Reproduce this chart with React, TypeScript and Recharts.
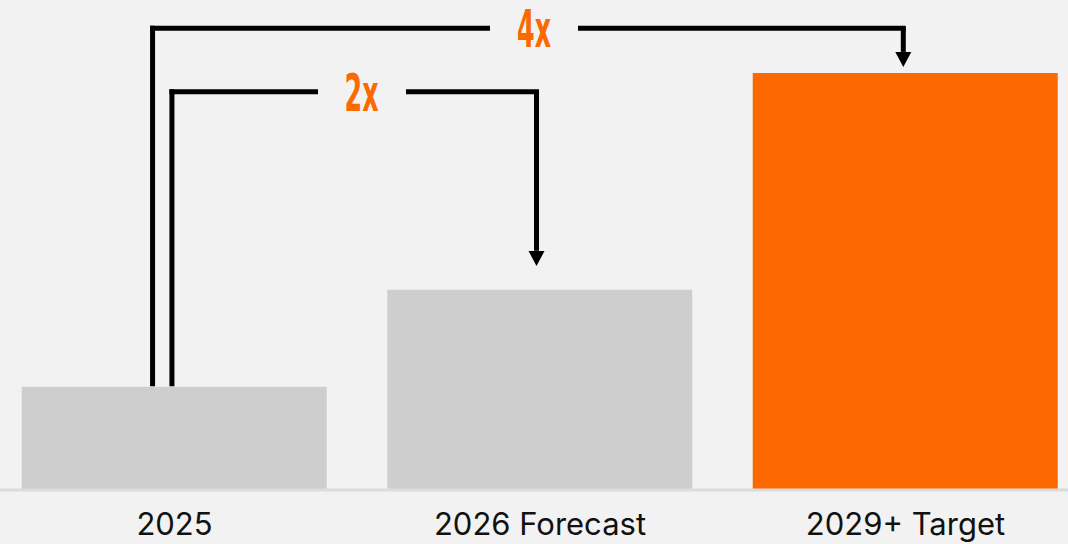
import { BarChart, Bar, Cell, XAxis, YAxis, ReferenceLine, ReferenceDot } from "recharts";

// categories and values
const categories = ["2025", "2026 Forecast", "2029+ Target"];
const values = [0.99, 1.92, 4.0];
const barColors = ["#cecece", "#cecece", "#fb6900"];

// connector annotations, in data coordinates (x = bar index, y = value)
const outerLevel = 4.43;
const innerLevel = 3.82;
const outerX = -0.06;
const innerX = -0.007;
const outerTarget = 1.994;
const innerTarget = 0.9905;
const outerTip = 4.057;
const innerTip = 2.149;
const headLen = 0.145;

const data = categories.map((name, i) => ({ idx: i, name, value: values[i] }));

const lineProps = {
  stroke: "#000",
  strokeWidth: 5,
  strokeLinecap: "square" as const,
  ifOverflow: "visible" as const,
};

const Arrowhead = (p: any) => (
  <path d={`M${p.cx - 8},${p.cy - 15} L${p.cx + 8},${p.cy - 15} L${p.cx},${p.cy} Z`} fill="#000" />
);

const makeMultiple = (text: string) => (p: any) => (
  <text
    x={p.cx}
    y={p.cy + 19}
    textAnchor="middle"
    fill="#fb6900"
    fontFamily="DejaVu Sans"
    fontWeight="bold"
    fontSize={52}
    textLength={34}
    lengthAdjust="spacingAndGlyphs"
  >
    {text}
  </text>
);

const App = () => {
  return (
    <div style={{ position: "absolute", left: 0, top: 0, width: 1068, height: 544, background: "#f2f2f2" }}>
      <BarChart width={1068} height={544} data={data} margin={{ top: 0, right: 0, left: 0, bottom: 0 }}>
        <XAxis
          type="number"
          dataKey="idx"
          domain={[-0.4774, 2.4446]}
          ticks={[0, 1, 2]}
          tickFormatter={(i: number) => categories[i]}
          height={54}
          axisLine={{ stroke: "#dcdcdc", strokeWidth: 3 }}
          tickLine={false}
          tickSize={0}
          tickMargin={23}
          tick={{ fill: "#111", fontSize: 31, fontFamily: "Inter" }}
        />
        <YAxis hide domain={[0, 4.7]} />
        <Bar dataKey="value" barSize={305} isAnimationActive={false}>
          {data.map((d, i) => (
            <Cell key={d.name} fill={barColors[i]} />
          ))}
        </Bar>

        {/* 4x connector */}
        <ReferenceLine segment={[{ x: outerX, y: values[0] + 0.03 }, { x: outerX, y: outerLevel }]} {...lineProps} />
        <ReferenceLine segment={[{ x: outerX, y: outerLevel }, { x: 0.8564, y: outerLevel }]} {...lineProps} />
        <ReferenceLine segment={[{ x: 1.1108, y: outerLevel }, { x: outerTarget, y: outerLevel }]} {...lineProps} />
        <ReferenceLine segment={[{ x: outerTarget, y: outerLevel }, { x: outerTarget, y: outerTip + headLen }]} {...lineProps} strokeLinecap="butt" />
        <ReferenceDot x={outerTarget} y={outerTip} r={0} ifOverflow="visible" shape={Arrowhead} />
        <ReferenceDot x={0.9836} y={outerLevel} r={0} ifOverflow="visible" shape={makeMultiple("4x")} />

        {/* 2x connector */}
        <ReferenceLine segment={[{ x: innerX, y: values[0] + 0.03 }, { x: innerX, y: innerLevel }]} {...lineProps} />
        <ReferenceLine segment={[{ x: innerX, y: innerLevel }, { x: 0.3858, y: innerLevel }]} {...lineProps} />
        <ReferenceLine segment={[{ x: 0.6402, y: innerLevel }, { x: innerTarget, y: innerLevel }]} {...lineProps} />
        <ReferenceLine segment={[{ x: innerTarget, y: innerLevel }, { x: innerTarget, y: innerTip + headLen }]} {...lineProps} strokeLinecap="butt" />
        <ReferenceDot x={innerTarget} y={innerTip} r={0} ifOverflow="visible" shape={Arrowhead} />
        <ReferenceDot x={0.5117} y={innerLevel} r={0} ifOverflow="visible" shape={makeMultiple("2x")} />
      </BarChart>
    </div>
  );
};

export default App;
